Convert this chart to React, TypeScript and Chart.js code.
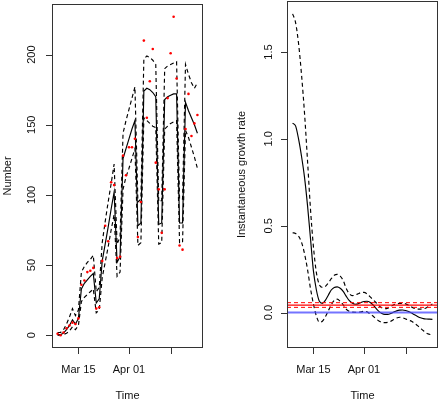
import React, { useEffect, useRef } from "react";
import { Chart, registerables } from "chart.js";

Chart.register(...registerables);

// ---------- data ----------
const dates = [
  "2020-03-08", "2020-03-09", "2020-03-10", "2020-03-11", "2020-03-12", "2020-03-13", "2020-03-14", "2020-03-15",
  "2020-03-16", "2020-03-17", "2020-03-18", "2020-03-19", "2020-03-20", "2020-03-21", "2020-03-22", "2020-03-23",
  "2020-03-24", "2020-03-25", "2020-03-26", "2020-03-27", "2020-03-28", "2020-03-29", "2020-03-30", "2020-03-31",
  "2020-04-01", "2020-04-02", "2020-04-03", "2020-04-04", "2020-04-05", "2020-04-06", "2020-04-07", "2020-04-08",
  "2020-04-09", "2020-04-10", "2020-04-11", "2020-04-12", "2020-04-13", "2020-04-14", "2020-04-15", "2020-04-16",
  "2020-04-17", "2020-04-18", "2020-04-19", "2020-04-20", "2020-04-21", "2020-04-22", "2020-04-23", "2020-04-24",
];

const observed = [
  1, 0, 2, 5, 7, 9, 8, 12, 36, 39, 45, 46, 48, 19, 20, 53, 78, 67, 109, 107, 55, 56, 128, 114,
  134, 134, 140, 70, 95, 210, 155, 181, 204, 123, 104, 73, 104, 169, 201, 227, 183, 64, 61, 147, 172, 142, 151, 157,
];

const fitted = [
  0.5, 0.5, 1.5, 4, 7, 11, 8, 12, 33, 37, 39.5, 42, 44, 23, 26, 53, 65, 77, 90, 102, 52, 56, 126, 133,
  140, 147, 153, 78, 80, 174, 176, 175, 173, 170, 79, 80, 168, 170, 171, 172, 172, 80, 80, 166, 160, 155, 150, 144,
];

const fittedUpper = [
  2, 2, 4, 8, 13, 19, 14, 18, 45, 49, 52, 54, 57, 31, 34, 66, 81, 95, 108, 122, 65, 70, 144, 153,
  161, 169, 177, 95, 97, 197, 199, 198, 196, 193, 95, 96, 190, 192, 193, 194, 195, 97, 97, 193, 186, 180, 176, 180,
];

const fittedLower = [
  0, 0, 0.5, 1.5, 3, 6, 4, 7, 24, 27, 29, 31, 33, 16, 18, 41, 52, 63, 75, 86, 42, 45, 104, 113,
  119, 126, 133, 64, 66, 155, 153, 151, 149, 148, 65, 66, 147, 149, 151, 152, 153, 66, 66, 146, 141, 134, 127, 119,
];

const growthRate = [
  1.09, 1.075, 1.0, 0.9, 0.78, 0.62, 0.43, 0.24, 0.13, 0.065, 0.053, 0.07, 0.1, 0.13, 0.145, 0.148,
  0.14, 0.122, 0.095, 0.07, 0.055, 0.048, 0.05, 0.058, 0.064, 0.065, 0.06, 0.045, 0.025, 0.007, -0.005, -0.01,
  -0.01, -0.005, 0.003, 0.01, 0.014, 0.015, 0.012, 0.006, -0.003, -0.013, -0.022, -0.03, -0.035, -0.037, -0.038, -0.039,
];

const growthUpper = [
  1.72, 1.67, 1.55, 1.37, 1.15, 0.88, 0.6, 0.38, 0.23, 0.16, 0.145, 0.15, 0.17, 0.195, 0.215, 0.22,
  0.21, 0.185, 0.14, 0.11, 0.098, 0.1, 0.108, 0.115, 0.116, 0.108, 0.092, 0.075, 0.058, 0.04, 0.028, 0.022,
  0.025, 0.035, 0.045, 0.05, 0.053, 0.053, 0.05, 0.042, 0.032, 0.024, 0.02, 0.02, 0.022, 0.028, 0.038, 0.05,
];

const growthLower = [
  0.46, 0.455, 0.44, 0.405, 0.34, 0.25, 0.14, 0.05, -0.02, -0.055, -0.05, -0.025, 0.01, 0.045, 0.07, 0.077,
  0.065, 0.045, 0.02, 0.008, 0.003, 0.002, 0.002, 0.004, 0.007, 0.005, -0.008, -0.02, -0.036, -0.048, -0.056, -0.058,
  -0.056, -0.05, -0.04, -0.031, -0.027, -0.03, -0.037, -0.044, -0.05, -0.062, -0.075, -0.09, -0.105, -0.118, -0.125, -0.13,
];

const meanRate = 0.043;
const meanRateLow = 0.03;
const meanRateHigh = 0.057;
const zeroRate = 0;

const xTickDates = ["2020-03-15", "2020-04-01", "2020-04-15"];
const xTickLabels = ["Mar 15", "Apr 01", ""];
const numberTicks = [0, 50, 100, 150, 200];
const numberTickLabels = ["0", "50", "100", "150", "200"];
const rateTicks = [0, 0.5, 1, 1.5];
const rateTickLabels = ["0.0", "0.5", "1.0", "1.5"];

// ---------- helpers ----------
const dayNum = (s: string) => {
  const [y, m, d] = s.split("-").map(Number);
  return (Date.UTC(y, m - 1, d) - Date.UTC(2020, 2, 1)) / 86400000;
};
const rRange = (vals: number[]) => {
  const lo = Math.min(...vals);
  const hi = Math.max(...vals);
  const e = (hi - lo) * 0.04;
  return [lo - e, hi + e];
};

const FONT = '11px "Liberation Sans", Arial, Helvetica, sans-serif';

function makeAxesPlugin(cfg: any) {
  return {
    id: "rAxes",
    afterDraw(chart: any) {
      const { ctx, chartArea: a, scales } = chart;
      const xs = scales.x;
      const ys = scales.y;
      ctx.save();
      ctx.setLineDash([]);
      ctx.strokeStyle = "#333";
      ctx.lineWidth = 1;
      ctx.strokeRect(a.left + 0.5, a.top + 0.5, a.right - a.left - 1, a.bottom - a.top - 1);
      ctx.beginPath();
      cfg.yTicks.forEach((v: number) => {
        const p = Math.round(ys.getPixelForValue(v)) + 0.5;
        ctx.moveTo(a.left - 6, p);
        ctx.lineTo(a.left + 0.5, p);
      });
      cfg.xTicks.forEach((v: number) => {
        const p = Math.round(xs.getPixelForValue(v)) + 0.5;
        ctx.moveTo(p, a.bottom - 0.5);
        ctx.lineTo(p, a.bottom + 6);
      });
      ctx.stroke();

      ctx.fillStyle = "#111";
      ctx.font = FONT;
      ctx.textAlign = "center";
      ctx.textBaseline = "alphabetic";
      cfg.yTicks.forEach((v: number, i: number) => {
        const p = ys.getPixelForValue(v);
        ctx.save();
        ctx.translate(cfg.yLabelBase, p);
        ctx.rotate(-Math.PI / 2);
        ctx.fillText(cfg.yLabels[i], 0, 0);
        ctx.restore();
      });
      cfg.xTicks.forEach((v: number, i: number) => {
        if (cfg.xLabels[i]) ctx.fillText(cfg.xLabels[i], xs.getPixelForValue(v), cfg.xLabelBase);
      });
      ctx.fillText(cfg.xTitle, (a.left + a.right) / 2, cfg.xTitleBase);
      ctx.save();
      ctx.translate(cfg.yTitleBase, (a.top + a.bottom) / 2);
      ctx.rotate(-Math.PI / 2);
      ctx.fillText(cfg.yTitle, 0, 0);
      ctx.restore();
      ctx.restore();
    },
  };
}

const days = dates.map(dayNum);
const xTicks = xTickDates.map(dayNum);
const [xMin, xMax] = rRange(days);
const pts = (vals: number[]) => vals.map((v, i) => ({ x: days[i], y: v }));
const hline = (v: number) => [
  { x: xMin, y: v },
  { x: xMax, y: v },
];

function baseOptions(padding: any, yMin: number, yMax: number) {
  return {
    animation: false as const,
    responsive: false,
    devicePixelRatio: 1,
    layout: { padding },
    scales: {
      x: { type: "linear" as const, display: false, min: xMin, max: xMax },
      y: { type: "linear" as const, display: false, min: yMin, max: yMax },
    },
    plugins: { legend: { display: false }, tooltip: { enabled: false } },
    elements: { point: { radius: 0 } },
  };
}

const LW = 1.15;

export default function App() {
  const leftRef = useRef<HTMLCanvasElement>(null);
  const rightRef = useRef<HTMLCanvasElement>(null);

  useEffect(() => {
    const [lyMin, lyMax] = rRange([...observed, ...fitted, ...fittedUpper, ...fittedLower]);
    const left = new Chart(leftRef.current!, {
      type: "line",
      data: {
        datasets: [
          {
            data: pts(observed),
            showLine: false,
            pointRadius: 1.3,
            pointBackgroundColor: "#ff0000",
            pointBorderWidth: 0,
          },
          { data: pts(fitted), borderColor: "#000", borderWidth: LW, tension: 0, pointRadius: 0 },
          { data: pts(fittedUpper), borderColor: "#000", borderWidth: LW, borderDash: [4, 3], tension: 0, pointRadius: 0 },
          { data: pts(fittedLower), borderColor: "#000", borderWidth: LW, borderDash: [4, 3], tension: 0, pointRadius: 0 },
        ],
      },
      options: baseOptions({ left: 52, right: 17, top: 1, bottom: 52 }, lyMin, lyMax) as any,
      plugins: [
        makeAxesPlugin({
          yTicks: numberTicks,
          yLabels: numberTickLabels,
          xTicks,
          xLabels: xTickLabels,
          yLabelBase: 35,
          xLabelBase: 373,
          xTitle: "Time",
          xTitleBase: 399,
          yTitle: "Number",
          yTitleBase: 11,
        }),
      ],
    });

    const [ryMin, ryMax] = rRange([...growthRate, ...growthUpper, ...growthLower]);
    const right = new Chart(rightRef.current!, {
      type: "line",
      data: {
        datasets: [
          { data: hline(zeroRate), borderColor: "rgba(70,70,255,0.75)", borderWidth: 2, pointRadius: 0 },
          { data: hline(meanRate), borderColor: "#ff0000", borderWidth: 1.3, pointRadius: 0 },
          { data: hline(meanRateHigh), borderColor: "#ff0000", borderWidth: 1, borderDash: [4, 3], pointRadius: 0 },
          { data: hline(meanRateLow), borderColor: "#ff0000", borderWidth: 1, borderDash: [4, 3], pointRadius: 0 },
          { data: pts(growthRate), borderColor: "#000", borderWidth: LW, cubicInterpolationMode: "monotone", pointRadius: 0 },
          { data: pts(growthUpper), borderColor: "#000", borderWidth: LW, borderDash: [4, 3], cubicInterpolationMode: "monotone", pointRadius: 0 },
          { data: pts(growthLower), borderColor: "#000", borderWidth: LW, borderDash: [4, 3], cubicInterpolationMode: "monotone", pointRadius: 0 },
        ],
      },
      options: baseOptions({ left: 67, right: 2, top: 1, bottom: 52 }, ryMin, ryMax) as any,
      plugins: [
        makeAxesPlugin({
          yTicks: rateTicks,
          yLabels: rateTickLabels,
          xTicks,
          xLabels: xTickLabels,
          yLabelBase: 52,
          xLabelBase: 373,
          xTitle: "Time",
          xTitleBase: 399,
          yTitle: "Instantaneous growth rate",
          yTitleBase: 25,
        }),
      ],
    });

    return () => {
      left.destroy();
      right.destroy();
    };
  }, []);

  return (
    <div
      style={{
        position: "absolute",
        left: 0,
        top: 0,
        width: 440,
        height: 400,
        display: "flex",
        background: "#fff",
      }}
    >
      <canvas ref={leftRef} width={220} height={400} style={{ display: "block", width: 220, height: 400 }} />
      <canvas ref={rightRef} width={220} height={400} style={{ display: "block", width: 220, height: 400 }} />
    </div>
  );
}
